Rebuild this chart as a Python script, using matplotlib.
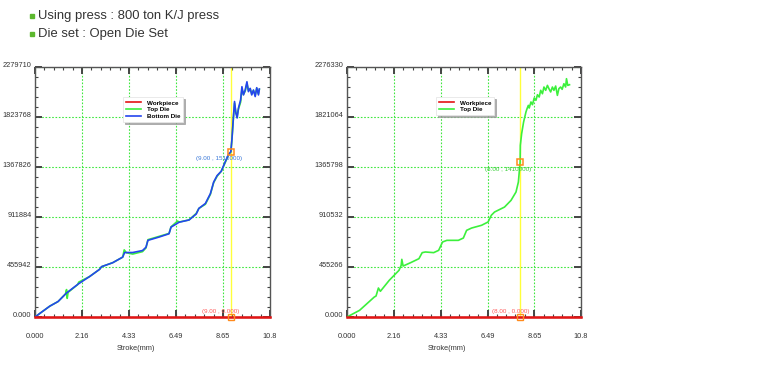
import matplotlib
matplotlib.use("Agg")
import matplotlib.pyplot as plt
from matplotlib.ticker import AutoMinorLocator, FixedLocator
from matplotlib.lines import Line2D
from matplotlib.patches import Rectangle

# ---------------- data ----------------
header_lines = ["Using press : 800 ton K/J press", "Die set : Open Die Set"]

x_ticks = [0.0, 2.16, 4.33, 6.49, 8.65, 10.8]
x_ticklabels = ["0.000", "2.16", "4.33", "6.49", "8.65", "10.8"]

left_y_ticks = [0, 455942, 911884, 1367826, 1823768, 2279710]
left_y_ticklabels = ["0.000", "455942", "911884", "1367826", "1823768", "2279710"]
right_y_ticks = [0, 455266, 910532, 1365798, 1821064, 2276330]
right_y_ticklabels = ["0.000", "455266", "910532", "1365798", "1821064", "2276330"]

# Left chart: Bottom Die (blue)
left_bottom_x = [0, 0.30, 0.68, 1.06, 1.45, 1.98, 2.51, 2.97, 3.06, 3.57, 4.03, 4.12, 4.49,
                 4.94, 5.10, 5.19, 5.70, 6.16, 6.25, 6.62, 7.08, 7.41, 7.53, 7.83, 8.06, 8.21,
                 8.37, 8.56, 8.75, 8.90, 9.00, 9.05, 9.11, 9.17, 9.23, 9.29, 9.35, 9.45, 9.51,
                 9.58, 9.66, 9.74, 9.81, 9.89, 9.96, 10.04, 10.12, 10.19, 10.27, 10.31]
left_bottom_y = [0, 44000, 99000, 141000, 219000, 300000, 369000, 435000, 459000, 495000,
                 546000, 588000, 588000, 606000, 636000, 699000, 729000, 759000, 819000,
                 864000, 885000, 939000, 990000, 1035000, 1125000, 1230000, 1290000, 1329000,
                 1419000, 1485000, 1506000, 1620000, 1800000, 1965000, 1860000, 1815000,
                 1905000, 1980000, 2100000, 2025000, 2070000, 2145000, 2055000, 2085000,
                 2025000, 2070000, 2010000, 2091000, 2025000, 2079000]

# Left chart: Top Die (green)
left_top_x = [0, 0.30, 0.68, 1.06, 1.40, 1.45, 1.48, 1.52, 1.96, 2.01, 2.51, 2.97, 3.06,
              3.57, 4.03, 4.10, 4.20, 4.49, 4.94, 5.10, 5.19, 5.70, 6.16, 6.25, 6.55, 6.62,
              7.08, 7.41, 7.53, 7.83, 8.06, 8.21, 8.37, 8.56, 8.75, 8.90, 9.00, 9.05, 9.11,
              9.17, 9.23, 9.29, 9.35, 9.45, 9.51, 9.58, 9.66, 9.74, 9.81, 9.89, 9.96, 10.04,
              10.12, 10.19, 10.27, 10.31]
left_top_y = [0, 44000, 99000, 141000, 210000, 250000, 170000, 225000, 295000, 318000,
              369000, 435000, 459000, 495000, 546000, 612000, 586000, 574000, 596000, 630000,
              705000, 735000, 762000, 822000, 875000, 866000, 885000, 945000, 990000,
              1028000, 1118000, 1225000, 1284000, 1329000, 1412000, 1480000, 1506000,
              1615000, 1790000, 1950000, 1870000, 1830000, 1895000, 1960000, 2080000,
              2030000, 2060000, 2130000, 2065000, 2080000, 2035000, 2065000, 2020000,
              2085000, 2035000, 2075000]

# Right chart: Top Die (green)
right_top_x = [0, 0.58, 1.26, 1.34, 1.45, 1.54, 1.95, 2.40, 2.50, 2.53, 2.59, 2.94, 3.32,
               3.47, 3.62, 4.00, 4.23, 4.41, 4.61, 5.14, 5.37, 5.52, 5.75, 6.21, 6.51, 6.66,
               6.81, 7.27, 7.57, 7.80, 7.91, 7.99, 8.00, 8.06, 8.15, 8.26, 8.31, 8.37, 8.41,
               8.49, 8.56, 8.64, 8.72, 8.79, 8.87, 8.94, 9.02, 9.09, 9.17, 9.25, 9.32, 9.40,
               9.48, 9.55, 9.63, 9.71, 9.78, 9.86, 9.93, 10.01, 10.09, 10.13, 10.19, 10.27]
right_top_y = [0, 60700, 182000, 191000, 264000, 234000, 334000, 425000, 470000, 525000,
               464000, 495000, 531000, 586000, 592000, 586000, 607000, 683000, 698000, 698000,
               719000, 789000, 810000, 835000, 865000, 926000, 956000, 1001000, 1062000,
               1138000, 1229000, 1411000, 1563000, 1669000, 1775000, 1867000, 1897000,
               1927000, 1903000, 1958000, 1933000, 1994000, 1973000, 2024000, 2003000,
               2064000, 2033000, 2094000, 2064000, 2109000, 2079000, 2049000, 2094000,
               2064000, 2103000, 2018000, 2079000, 2094000, 2073000, 2124000, 2094000,
               2170000, 2109000, 2115000]

left_marker = (9.00, 1506000)
left_marker_label = "(9.00 , 1510000)"
right_marker = (8.00, 1411000)
right_marker_label = "(8.00 , 1410000)"
left_zero_label = "(9.00 , 0.000)"
right_zero_label = "(8.00 , 0.000)"

# ---------------- style ----------------
RED = "#e41414"
GREEN = "#3cf03c"
BLUE = "#2445ee"
ORANGE = "#ff8a1c"
YELLOW = "#ffff3a"
GRID = "#3fe83f"
TXT = "#333333"
SMALL = 5.3
FONT = "Liberation Sans"

plt.rcParams["font.family"] = [FONT, "DejaVu Sans"]

W, H = 780, 369
fig = plt.figure(figsize=(W / 100, H / 100), dpi=100)

# header
for i, line in enumerate(header_lines):
    yc = 16 + i * 18
    fig.patches.append(Rectangle((30 / W, 1 - (yc + 2) / H), 4 / W, 4 / H,
                                 transform=fig.transFigure, color="#5cb82e", zorder=5))
    fig.text(38 / W, 1 - yc / H, line, ha="left", va="center", fontsize=9.4,
             color=TXT, family=FONT)


def make_chart(left_px, right_px, yticks, yticklabels, series, vline_x, marker,
               marker_label, marker_color, zero_label, legend_left_px):
    top_px, bot_px = 67, 317
    ax = fig.add_axes([left_px / W, 1 - bot_px / H, (right_px - left_px) / W,
                       (bot_px - top_px) / H])
    ax.set_xlim(0, 10.8)
    ax.set_ylim(0, yticks[-1])
    ax.xaxis.set_major_locator(FixedLocator(x_ticks))
    ax.set_xticklabels(x_ticklabels)
    ax.yaxis.set_major_locator(FixedLocator(yticks))
    ax.set_yticklabels(yticklabels)
    ax.xaxis.set_minor_locator(AutoMinorLocator(5))
    ax.yaxis.set_minor_locator(AutoMinorLocator(5))
    ax.tick_params(which="both", direction="in", top=True, right=True, color="#444444")
    ax.tick_params(which="major", length=5, width=1.4, labelsize=SMALL, labelcolor=TXT)
    ax.tick_params(which="minor", length=2.5, width=0.8)
    ax.tick_params(axis="x", which="major", pad=11.5)
    ax.tick_params(axis="y", which="major", pad=2.5)
    for lab in ax.get_yticklabels():
        lab.set_va("baseline")
    for s in ax.spines.values():
        s.set_color("#555555")
        s.set_linewidth(1.0)
    ax.grid(which="major", color=GRID, linestyle=(0, (1.5, 1.5)), linewidth=0.8)
    ax.set_axisbelow(True)

    ax.axvline(vline_x, color=YELLOW, lw=1.0, zorder=2)
    handles = [Line2D([], [], color=RED, lw=1.2)]
    labels = ["Workpiece"]
    for (xs, ys, col, name) in series:
        ax.plot(xs, ys, color=col, lw=1.2, zorder=3)
        handles.append(Line2D([], [], color=col, lw=1.2))
        labels.append(name)
    ax.plot([0, 10.8], [0, 0], color=RED, lw=1.8, clip_on=False, zorder=4)

    ax.plot([marker[0]], [marker[1]], marker="s", ms=4.5, mfc="none", mec=ORANGE,
            mew=1.1, zorder=6)
    ax.plot([vline_x], [0], marker="s", ms=4, mfc="none", mec=ORANGE, mew=1.0,
            zorder=6, clip_on=False)
    ax.annotate(marker_label, marker, xytext=(-12, -7), textcoords="offset pixels",
                ha="center", va="center", fontsize=4.5, color=marker_color, zorder=5)
    ax.annotate(zero_label, (vline_x, 0), xytext=(-10, 6), textcoords="offset pixels",
                ha="center", va="center", fontsize=4.5, color="#ff5a5a", zorder=5)

    leg = ax.legend(handles, labels, loc="upper left",
                    bbox_to_anchor=((legend_left_px - left_px) / (right_px - left_px),
                                    (bot_px - 97) / (bot_px - top_px)),
                    prop=dict(family=FONT, weight="bold", size=4.5),
                    handlelength=2.3, handletextpad=1.0, labelspacing=0.2,
                    borderpad=0.5, borderaxespad=0, frameon=True, fancybox=False,
                    shadow={"color": "#9a9a9a", "alpha": 0.8, "ox": 1.5, "oy": -1.5},
                    edgecolor="#e6e6e6", framealpha=1)
    leg.get_frame().set_linewidth(0.6)
    leg.set_zorder(7)

    xl = (135 - 35) / 234
    ax.text(xl, -31 / (bot_px - top_px), "Stroke(mm)", transform=ax.transAxes,
            ha="center", va="center", fontsize=SMALL, color=TXT)
    return ax


make_chart(35, 270, left_y_ticks, left_y_ticklabels,
           [(left_top_x, left_top_y, GREEN, "Top Die"),
            (left_bottom_x, left_bottom_y, BLUE, "Bottom Die")],
           9.00, left_marker, left_marker_label, "#3a78d8", left_zero_label, 123)

make_chart(347, 581, right_y_ticks, right_y_ticklabels,
           [(right_top_x, right_top_y, GREEN, "Top Die")],
           8.00, right_marker, right_marker_label, "#33cc33", right_zero_label, 436)

fig.savefig("out.png", dpi=100)
